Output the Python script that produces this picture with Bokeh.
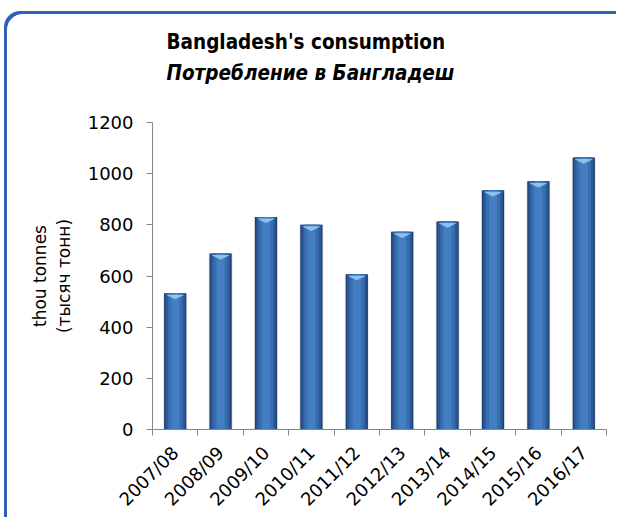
from math import pi

from bokeh.embed import file_html
from bokeh.models import ColumnDataSource, FixedTicker, Range1d, Title
from bokeh.plotting import figure
from bokeh.resources import INLINE

# Bangladesh consumption, thousand tonnes, by marketing year
seasons = ["2007/08", "2008/09", "2009/10", "2010/11", "2011/12",
           "2012/13", "2013/14", "2014/15", "2015/16", "2016/17"]
consumption = [533, 688, 831, 800, 607, 773, 813, 935, 970, 1063]
y_ticks = [0, 200, 400, 600, 800, 1000, 1200]

title_en = "Bangladesh's consumption"
title_ru = "Потребление в Бангладеш"
y_label = "thou tonnes\n(тысяч тонн)"

FONT = "DejaVu Sans"
TITLE_FONT = "DejaVu Sans Condensed"
AXIS_GREY = "#868686"
PANEL_BLUE = "#2e62b5"

n = len(seasons)
xs = [i + 0.5 for i in range(n)]
src = ColumnDataSource(dict(x=xs, top=consumption))

# canvas sits inside a rounded blue panel edge (top/left sides visible)
p = figure(width=612, height=506, output_backend="svg", toolbar_location=None,
           x_range=Range1d(0, n), y_range=Range1d(0, 1200),
           min_border_left=145, min_border_right=13,
           min_border_top=108, min_border_bottom=88)
p.styles = {"margin-left": "7px", "margin-top": "14px",
            "box-shadow": f"-3px -3px 0px 0px {PANEL_BLUE}",
            "border-top-left-radius": "16px", "overflow": "hidden"}
p.outline_line_color = None
p.grid.grid_line_color = None
p.background_fill_color = "white"
p.border_fill_color = "white"

# soft drop shadow, then bar body shaded from dark edges to a lighter core
p.vbar(x="x", top="top", width=0.54, bottom=0, source=src,
       fill_color="#000000", fill_alpha=0.07, line_color=None)
p.vbar(x="x", top="top", width=0.49, bottom=0, source=src,
       fill_color="#1c3d70", line_color=None)
p.vbar(x="x", top="top", width=0.43, bottom=0, source=src,
       fill_color="#2c5a98", line_color=None)
p.vbar(x="x", top="top", width=0.32, bottom=0, source=src,
       fill_color="#386db0", line_color=None)
p.vbar(x="x", top="top", width=0.18, bottom=0, source=src,
       fill_color="#437ec2", line_color=None)

# bevelled highlight under each bar top
bev_x, bev_y = [], []
for x, v in zip(xs, consumption):
    bev_x.append([x - 0.2, x + 0.2, x + 0.12, x, x - 0.12])
    bev_y.append([v - 6, v - 6, v - 14, v - 24, v - 14])
p.patches(bev_x, bev_y, fill_color="#8cc1ee", line_color=None)

# axes
p.yaxis.ticker = FixedTicker(ticks=y_ticks)
p.yaxis.axis_line_color = AXIS_GREY
p.yaxis.major_tick_line_color = AXIS_GREY
p.yaxis.major_tick_out = 6
p.yaxis.major_tick_in = 0
p.yaxis.minor_tick_line_color = None
p.yaxis.major_label_text_font = FONT
p.yaxis.major_label_text_font_size = "18px"
p.yaxis.major_label_text_color = "black"
p.yaxis.major_label_standoff = 13
p.yaxis.axis_label = y_label
p.yaxis.axis_label_text_font = FONT
p.yaxis.axis_label_text_font_size = "17px"
p.yaxis.axis_label_text_font_style = "normal"
p.yaxis.axis_label_text_color = "black"
p.yaxis.axis_label_standoff = 11

p.xaxis.ticker = FixedTicker(ticks=xs, minor_ticks=list(range(n + 1)))
p.xaxis.major_label_overrides = {x: s for x, s in zip(xs, seasons)}
p.xaxis.axis_line_color = AXIS_GREY
p.xaxis.major_tick_line_color = None
p.xaxis.minor_tick_line_color = AXIS_GREY
p.xaxis.minor_tick_out = 6
p.xaxis.minor_tick_in = 0
p.xaxis.major_label_orientation = pi / 4
p.xaxis.major_label_text_font = FONT
p.xaxis.major_label_text_font_size = "18px"
p.xaxis.major_label_text_color = "black"
p.xaxis.major_label_standoff = 14


def spacer(size_px, standoff):
    """Blank title used only to open a gap between stacked panels."""
    return Title(text=" ", text_font_size=f"{size_px}px", standoff=standoff)


# two-line title above a gap, Russian line nearest the frame
p.add_layout(spacer(10, 22), "above")
p.add_layout(Title(text=title_ru, align="left", offset=14, standoff=6,
                   text_font=TITLE_FONT, text_font_size="20.5px",
                   text_font_style="bold italic", text_color="black"), "above")
p.add_layout(Title(text=title_en, align="left", offset=14, standoff=4,
                   text_font=TITLE_FONT, text_font_size="20.5px",
                   text_font_style="bold", text_color="black"), "above")

open("out.html", "w").write(file_html(p, INLINE))
